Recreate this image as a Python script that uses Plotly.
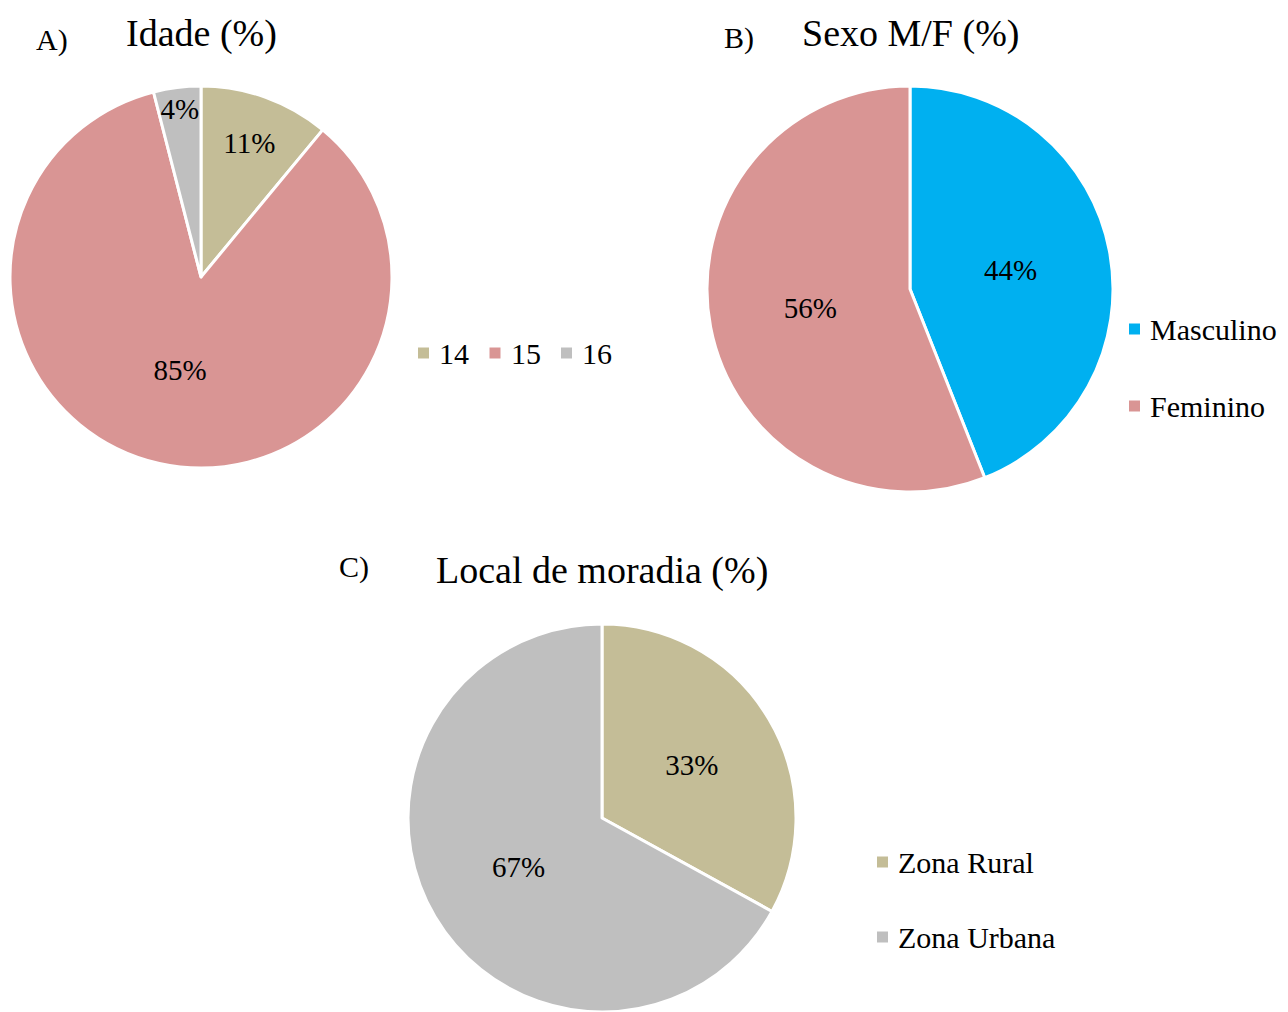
import plotly.graph_objects as go

W, H = 1288, 1012

# Data
idade_labels = ["14", "15", "16"]
idade_values = [11, 85, 4]
idade_colors = ["#C4BD97", "#D99594", "#BFBFBF"]

sexo_labels = ["Masculino", "Feminino"]
sexo_values = [44, 56]
sexo_colors = ["#00B0F0", "#D99594"]

local_labels = ["Zona Rural", "Zona Urbana"]
local_values = [33, 67]
local_colors = ["#C4BD97", "#BFBFBF"]

FONT = "Liberation Serif, Times New Roman, serif"


def px_x(x):
    return x / W


def px_y(y):
    return 1 - y / H


fig = go.Figure()


def add_pie(labels, values, colors, x0, x1, y0, y1):
    fig.add_trace(go.Pie(
        labels=labels, values=values, sort=False, direction="clockwise", rotation=0,
        marker=dict(colors=colors, line=dict(color="white", width=3)),
        textinfo="percent", texttemplate="%{value}%", textposition="inside",
        insidetextorientation="horizontal",
        textfont=dict(family=FONT, size=29, color="black"),
        domain=dict(x=[px_x(x0), px_x(x1)], y=[max(0, px_y(y1)), px_y(y0)]),
        showlegend=False, hoverinfo="label+percent",
    ))


add_pie(idade_labels, idade_values, idade_colors, 10, 392, 86, 468)
add_pie(sexo_labels, sexo_values, sexo_colors, 707, 1113, 86, 492)
add_pie(local_labels, local_values, local_colors, 405, 799, 624, 1019)

annotations = []
shapes = []


def text(x, y, s, size, anchor="center"):
    annotations.append(dict(x=px_x(x), y=px_y(y), xref="paper", yref="paper", text=s,
                            showarrow=False, xanchor=anchor, yanchor="middle",
                            font=dict(family=FONT, size=size, color="black")))


# Titles
text(201, 33, "Idade (%)", 38)
text(52, 40, "A)", 30)
text(910, 33, "Sexo M/F (%)", 38)
text(739, 38, "B)", 30)
text(602, 570, "Local de moradia (%)", 38)
text(354, 567, "C)", 30)


def legend_item(x, y, label, color):
    shapes.append(dict(type="rect", xref="paper", yref="paper",
                       x0=px_x(x), x1=px_x(x + 11), y0=px_y(y - 5.5), y1=px_y(y + 5.5),
                       fillcolor=color, line=dict(width=0)))
    text(x + 19, y, label, 30, anchor="left")


# Legend A (horizontal)
for i, (lab, col) in enumerate(zip(idade_labels, idade_colors)):
    legend_item(418 + i * 71.5, 353, lab, col)

# Legend B (vertical)
for i, (lab, col) in enumerate(zip(sexo_labels, sexo_colors)):
    legend_item(1129, 329 + i * 77, lab, col)

# Legend C (vertical)
for i, (lab, col) in enumerate(zip(local_labels, local_colors)):
    legend_item(877, 862 + i * 75, lab, col)

fig.update_layout(
    width=W, height=H, margin=dict(l=0, r=0, t=0, b=0),
    paper_bgcolor="white", plot_bgcolor="white",
    annotations=annotations, shapes=shapes,
    uniformtext=dict(minsize=29, mode="show"),
)

fig.write_html("out.html")
